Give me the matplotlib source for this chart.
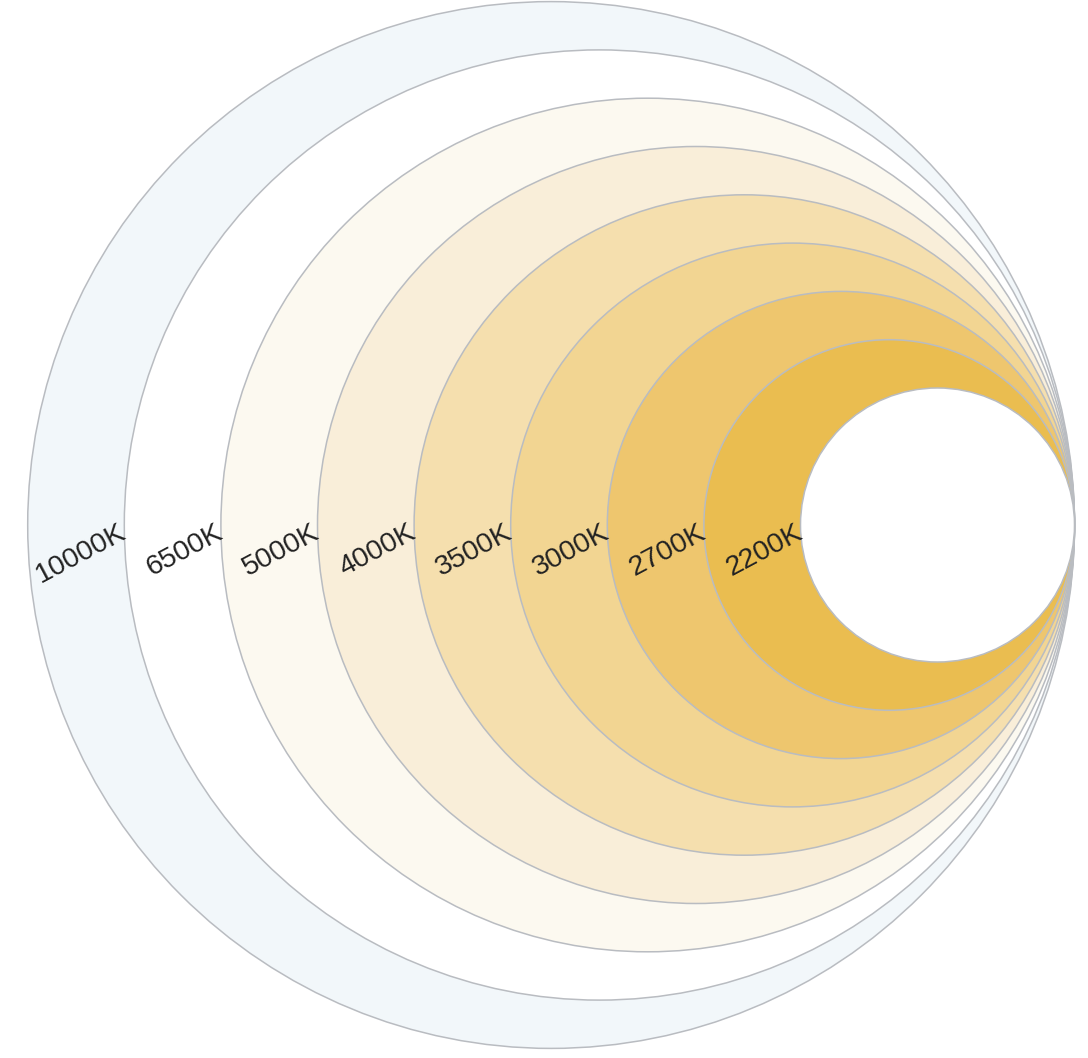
import matplotlib.pyplot as plt
from matplotlib.patches import Circle

# categories, warm (inside) to cool (outside)
labels = ['2200K', '2700K', '3000K', '3500K', '4000K', '5000K', '6500K', '10000K']
colors = ['#eabd50', '#eec66e', '#f2d592', '#f5dfae', '#f9eed9', '#fcf9f0', '#ffffff', '#f2f7fa']

W, H = 1088, 1058
fig = plt.figure(figsize=(W / 100, H / 100), dpi=100)
ax = fig.add_axes([0, 0, 1, 1])
ax.set_xlim(0, W)
ax.set_ylim(H, 0)
ax.set_aspect('equal')
ax.axis('off')

# layout: all circles touch at one point on the right
tx, ty = 1074.5, 525
r0 = 137
step = 48.3
edge = '#b9bcc1'

n = len(labels)
radii = [r0 + step * (i + 1) for i in range(n)]

# draw largest first
for i in range(n - 1, -1, -1):
    r = radii[i]
    ax.add_patch(Circle((tx - r, ty), r, facecolor=colors[i], edgecolor=edge, lw=1.1))

# hole in the middle
ax.add_patch(Circle((tx - r0, ty), r0, facecolor='white', edgecolor=edge, lw=1.1))

# labels sit in each ring, ending at the inner circle
for i in range(n):
    r_in = radii[i - 1] if i > 0 else r0
    x_in = tx - 2 * r_in
    ax.text(x_in, ty + 6, labels[i], ha='right', va='center',
            rotation=28, rotation_mode='anchor',
            fontsize=20.5, family='Liberation Sans', color='#222222')

fig.savefig('out.png', dpi=100)
